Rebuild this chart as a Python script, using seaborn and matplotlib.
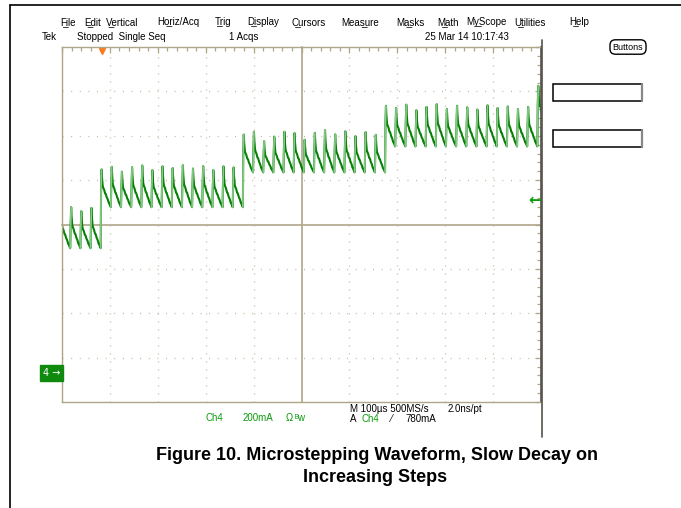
import numpy as np
import pandas as pd
import seaborn as sns
import matplotlib.pyplot as plt
import matplotlib.transforms as mtransforms
from matplotlib.lines import Line2D
from matplotlib.patches import Rectangle

# --- scope settings ---
time_per_div_us = 100
current_per_div_mA = 200
n_xdiv, n_ydiv = 10, 8
ground_div = -3.35            # ch4 marker position, divisions below centre
trigger_level_mA = 780
trigger_pos_us = 84

# --- waveform: chopped current stepping up ---
pulse_period_us = 21.2
first_pulse_us = -4.0
pulses_per_step = [4, 14, 14, 15, 1]
step_trough_mA = [563, 748, 905, 1022, 1110]
pulse_peak_mA = [740, 748, 730, 745,
                 918, 930, 908, 928, 936, 915, 932, 924, 937, 922, 933, 915, 932, 927,
                 1075, 1088, 1045, 1066, 1088, 1082, 1052, 1083, 1095, 1076, 1090, 1068, 1086, 1074,
                 1205, 1195, 1210, 1185, 1200, 1212, 1190, 1205, 1198, 1188, 1207, 1195, 1202, 1190, 1200,
                 1295]
# one chopping cycle: fraction of period / fraction of trough->peak
shape_phase = [0.04, 0.09, 0.13, 0.20, 0.27, 0.33, 0.44, 0.50, 0.61, 0.69, 0.79, 0.87, 1.0]
shape_level = [0.55, 1.00, 0.78, 0.56, 0.50, 0.47, 0.36, 0.35, 0.25, 0.21, 0.12, 0.08, 0.0]

menu_labels = ["F\u0332ile", "E\u0332dit", "V\u0332ertical", "Ho\u0332riz/Acq", "T\u0332rig",
               "D\u0332isplay", "C\u0332ursors", "Meas\u0332ure", "Ma\u0332sks", "M\u0332ath",
               "My\u0332Scope", "U\u0332tilities", "H\u0332elp"]
menu_x = [60, 84, 106, 157, 215, 247, 291, 341, 396, 437, 466, 514, 569]

W, H = 681, 508
TAN = "#afa68a"
DOT = "#bdb59c"
DARK_GREEN = "#078007"
LIGHT_GREEN = "#86c886"
TXT_GREEN = "#0c9a0c"

# --- build the trace ---
rows, rise_rows = [], []
k = 0
for step, n in enumerate(pulses_per_step):
    low = step_trough_mA[step]
    for _ in range(n):
        t0 = first_pulse_us + k * pulse_period_us
        high = pulse_peak_mA[k]
        if not rows:
            rows.append((t0, low))
        rise_rows.append((rows[-1][0], rows[-1][1], k))
        for ph, lv in zip(shape_phase, shape_level):
            pt = (t0 + ph * pulse_period_us, low + lv * (high - low))
            rows.append(pt)
            if ph <= 0.09:
                rise_rows.append((pt[0], pt[1], k))
        k += 1

trace = pd.DataFrame(rows, columns=["t_us", "I_mA"])
rises = pd.DataFrame(rise_rows, columns=["t_us", "I_mA", "pulse"])

sns.set_style("white")
plt.rcParams['font.family'] = ['Liberation Sans', 'DejaVu Sans']
plt.rcParams['text.color'] = 'black'

fig = plt.figure(figsize=(W / 100, H / 100), dpi=100)

def fx(x):
    return x / W

def fy(y):
    return 1 - y / H

rect = [fx(62), fy(402), (541 - 62) / W, (402 - 47) / H]
xlim = (0, n_xdiv * time_per_div_us)
ylim = ((-n_ydiv / 2 - ground_div) * current_per_div_mA, (n_ydiv / 2 - ground_div) * current_per_div_mA)
center_mA = -ground_div * current_per_div_mA

# background axes: centre cross with ticks
ax2 = fig.add_axes(rect)
ax2.set_xlim(xlim)
ax2.set_ylim(ylim)
for side in ["top", "right"]:
    ax2.spines[side].set_visible(False)
ax2.spines["left"].set_position(("data", xlim[1] / 2))
ax2.spines["bottom"].set_position(("data", center_mA))
for side in ["left", "bottom"]:
    ax2.spines[side].set_color(TAN)
    ax2.spines[side].set_linewidth(1.2)
ax2.set_xticks(np.arange(xlim[0], xlim[1] + 1, time_per_div_us))
ax2.set_xticks(np.arange(xlim[0], xlim[1] + 1, time_per_div_us / 5), minor=True)
ax2.set_yticks(np.arange(ylim[0], ylim[1] + 1, current_per_div_mA))
ax2.set_yticks(np.arange(ylim[0], ylim[1] + 1, current_per_div_mA / 5), minor=True)
ax2.tick_params(which="both", direction="inout", length=5, width=0.9, color=TAN,
                labelbottom=False, labelleft=False)
ax2.grid(False)

# main axes: border ticks, dotted graticule, trace
ax = fig.add_axes(rect, facecolor="none")
ax.set_xlim(xlim)
ax.set_ylim(ylim)
ax.set_xticks(np.arange(xlim[0], xlim[1] + 1, time_per_div_us))
ax.set_xticks(np.arange(xlim[0], xlim[1] + 1, time_per_div_us / 5), minor=True)
ax.set_yticks(np.arange(ylim[0], ylim[1] + 1, current_per_div_mA))
ax.set_yticks(np.arange(ylim[0], ylim[1] + 1, current_per_div_mA / 5), minor=True)
ax.tick_params(which="both", direction="in", top=True, right=True, color=TAN, width=0.9,
               labelbottom=False, labelleft=False)
ax.tick_params(which="major", length=4)
ax.tick_params(which="minor", length=3)
for side in ["left", "top", "bottom"]:
    ax.spines[side].set_color(TAN)
    ax.spines[side].set_linewidth(1.0)
ax.spines["right"].set_color("#55524a")
ax.spines["right"].set_linewidth(1.2)
ax.xaxis.grid(True, which="major", color=DOT, linewidth=0.9, linestyle=(0, (0.8, 5.6)))
ax.yaxis.grid(True, which="major", color=DOT, linewidth=0.9, linestyle=(0, (0.8, 6.1)))
ax.set_axisbelow(True)

sns.lineplot(data=trace, x="t_us", y="I_mA", sort=False, estimator=None,
             color=DARK_GREEN, linewidth=1.5, ax=ax)
sns.lineplot(data=rises, x="t_us", y="I_mA", units="pulse", sort=False, estimator=None,
             color=LIGHT_GREEN, linewidth=1.3, ax=ax, legend=False)
ax.set_xlabel("")
ax.set_ylabel("")

# trigger markers
bt = mtransforms.blended_transform_factory(ax.transData, ax.transAxes)
ax.plot([trigger_pos_us], [0.99], marker="v", color="#ff7a1a", markersize=5,
        transform=bt, clip_on=False)
ax.text(0.999, trigger_level_mA, "\u2190", color=TXT_GREEN, fontsize=11, fontweight="bold",
        ha="right", va="center", family="DejaVu Sans",
        transform=mtransforms.blended_transform_factory(ax.transAxes, ax.transData))
# channel ground marker
ax.text(-0.004, 0, "4 \u2192", color="white", fontsize=7, ha="right", va="center",
        family="DejaVu Sans",
        transform=mtransforms.blended_transform_factory(ax.transAxes, ax.transData),
        bbox=dict(boxstyle="square,pad=0.3", fc="#0f8a0f", ec="#0f8a0f"), clip_on=False)

# frame lines
fig.add_artist(Line2D([fx(9.5), fx(9.5)], [fy(5), fy(508)], color="black", lw=1.2))
fig.add_artist(Line2D([fx(9.5), fx(681)], [fy(5), fy(5)], color="black", lw=1.2))
fig.add_artist(Line2D([fx(541.5), fx(541.5)], [fy(40), fy(437)], color="#55524a", lw=1.2))

# menu bar and status line
for lab, x in zip(menu_labels, menu_x):
    fig.text(fx(x), fy(22), lab, fontsize=7, ha="left", va="center")
fig.text(fx(42), fy(37), "Tek", fontsize=7, va="center")
fig.text(fx(77), fy(37), "Stopped  Single Seq", fontsize=7, va="center")
fig.text(fx(229), fy(37), "1 Acqs", fontsize=7, va="center")
fig.text(fx(425), fy(37), "25 Mar 14 10:17:43", fontsize=7, va="center")
fig.text(fx(628), fy(47), "Buttons", fontsize=6.5, ha="center", va="center",
         bbox=dict(boxstyle="round,pad=0.3,rounding_size=0.6", fc="white", ec="black", lw=1.0))

# right-hand readout boxes
for y0 in [84, 130]:
    fig.add_artist(Rectangle((fx(553), fy(y0 + 17)), 89 / W, 17 / H, fill=False,
                             ec="black", lw=1.1))
    fig.add_artist(Line2D([fx(642), fx(642)], [fy(y0), fy(y0 + 17)], color="#888888", lw=1.6))

# bottom readouts
fig.text(fx(205), fy(418), "Ch4", fontsize=7, color=TXT_GREEN, va="center")
fig.text(fx(243), fy(418), "200mA", fontsize=7, color=TXT_GREEN, va="center")
fig.text(fx(286), fy(418), "\u03a9", fontsize=7, color=TXT_GREEN, va="center")
fig.text(fx(295), fy(418), "\u1d2ew", fontsize=7, color=TXT_GREEN, va="center")
fig.text(fx(350), fy(409), "M 100\u00b5s 500MS/s", fontsize=7, va="center")
fig.text(fx(448), fy(409), "2.0ns/pt", fontsize=7, va="center")
fig.text(fx(350), fy(419), "A", fontsize=7, va="center")
fig.text(fx(361), fy(419), "Ch4", fontsize=7, color=TXT_GREEN, va="center")
fig.text(fx(391), fy(419), "\u2044", fontsize=7, va="center")
fig.text(fx(405), fy(419), "780mA", fontsize=7, va="center")

# caption
fig.text(fx(377), fy(455), "Figure 10. Microstepping Waveform, Slow Decay on", fontsize=13,
         fontweight="bold", ha="center", va="center")
fig.text(fx(375), fy(477), "Increasing Steps", fontsize=13, fontweight="bold",
         ha="center", va="center")

fig.savefig("out.png", dpi=100)
